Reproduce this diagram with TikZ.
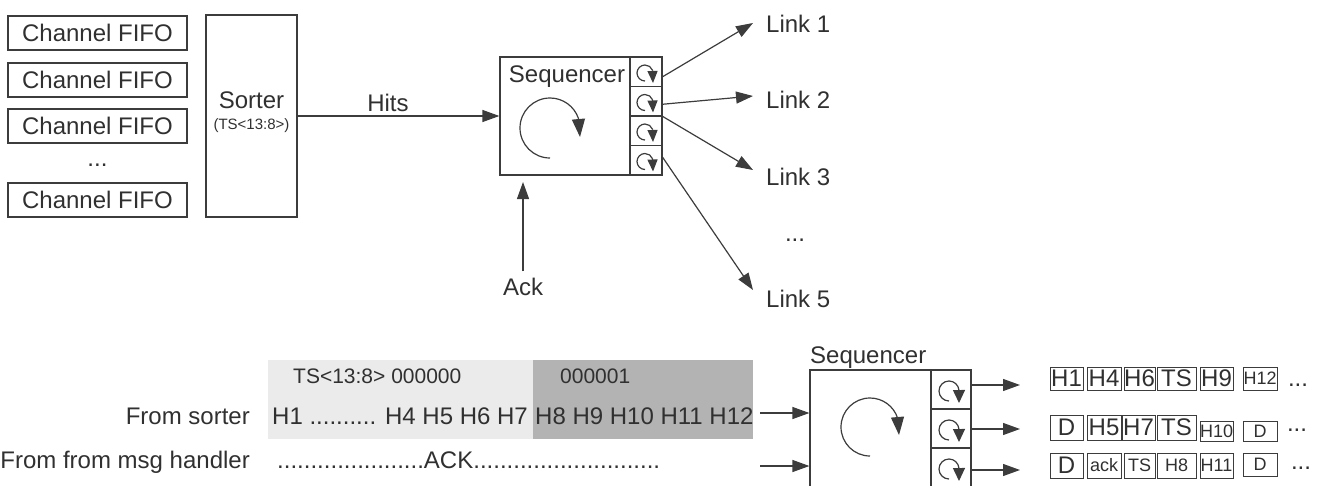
\documentclass[tikz,border=0pt]{standalone}
\usepackage{fontspec}
\setmainfont{Liberation Sans}
\usetikzlibrary{arrows.meta,calc}
\definecolor{lc}{HTML}{3C3C3C}
\definecolor{tc}{HTML}{303030}
\definecolor{lg}{HTML}{EBEBEB}
\definecolor{dg}{HTML}{B3B3B3}
\newcommand\fs[1]{\fontsize{#1}{#1}\selectfont}
\tikzset{
  ln/.style={draw=lc, line width=1.2pt},
  arr/.style={ln, -{Triangle[length=17pt,width=12pt]}},
  bx/.style={draw=lc, line width=1.2pt, inner sep=0pt},
  txt/.style={text=tc, inner sep=0pt, font=\fs{24}},
  gb/.style={draw=lc, line width=0.9pt, inner sep=0pt, text=tc, font=\fs{24}},
  sm/.style={font=\fs{18}},
}
% circular arrow: cx, cy, r, base angle, tip drop, head length, head width
\newcommand\cyc[7]{%
  \draw[ln] (#1,#2) ++(-90:#3pt) arc[start angle=-90, end angle=-360+#4, radius=#3pt];
  \draw[ln, -{Triangle[length=#6,width=#7]}] ([shift={(#4:#3pt)}]#1,#2) -- ([shift={(#3,#5)}]#1,#2);
}
\begin{document}
\begin{tikzpicture}[x=1pt,y=-1pt]
\useasboundingbox (0,0) rectangle (1325,485);
\clip (0,0) rectangle (1325,485);

% ---------- top part ----------
\node[bx, txt, minimum width=179pt, minimum height=34pt] (c1) at (97.5,33) {Channel FIFO};
\node[bx, txt, minimum width=179pt, minimum height=34pt] (c2) at (97.5,80) {Channel FIFO};
\node[bx, txt, minimum width=179pt, minimum height=34pt] (c3) at (97.5,126) {Channel FIFO};
\node[txt] (cdots) at (97.5,165) {...};
\node[bx, txt, minimum width=179pt, minimum height=34pt] (c5) at (97.5,200) {Channel FIFO};

\node[bx, minimum width=91pt, minimum height=202pt] (sorter) at (251.5,116) {};
\node[txt] (sorterlbl) at (251.5,100) {Sorter};
\node[txt, font=\fs{15}] (sorterts) at (251.5,126) {(TS<13:8>)};

\node[bx, minimum width=130pt, minimum height=118pt] (seq) at (565,116) {};
\node[txt, anchor=base] (seqlbl) at (567,82) {Sequencer};
\node[bx, minimum width=32pt, minimum height=29.5pt] (s1) at (646,71.75) {};
\node[bx, minimum width=32pt, minimum height=29.5pt] (s2) at (646,101.25) {};
\node[bx, minimum width=32pt, minimum height=29.5pt] (s3) at (646,130.75) {};
\node[bx, minimum width=32pt, minimum height=29.5pt] (s4) at (646,160.25) {};

\cyc{550}{128}{30}{19}{9}{18pt}{13pt}
\cyc{645}{73}{8}{20}{10}{12pt}{10pt}
\cyc{645}{102.5}{8}{20}{10}{12pt}{10pt}
\cyc{645}{132}{8}{20}{10}{12pt}{10pt}
\cyc{645}{161.5}{8}{20}{10}{12pt}{10pt}

\draw[arr] (sorter.east) -- (seq.west);
\node[txt] (hits) at (388,103) {Hits};

\node[txt, anchor=base west] (l1) at (766,32) {Link 1};
\node[txt, anchor=base west] (l2) at (766,108) {Link 2};
\node[txt, anchor=base west] (l3) at (766,185) {Link 3};
\node[txt] (ldots) at (795,240) {...};
\node[txt, anchor=base west] (l5) at (766,307) {Link 5};
\coordinate (t1) at (753,23);
\coordinate (t2) at (753,96);
\coordinate (t3) at (753,170);
\coordinate (t5) at (753,290);
\draw[arr] ([yshift=-5pt]s1.east) -- (t1);
\draw[arr] ([yshift=-3pt]s2.east) -- (t2);
\draw[arr] ([yshift=-1pt]s3.north east) -- (t3);
\draw[arr] ([yshift=3pt]s4.east) -- (t5);

\node[txt, anchor=base] (ack) at (523,295) {Ack};
\coordinate (ackend) at (523,182);
\draw[arr] ([yshift=6pt]ack.north) -- (ackend);

% ---------- bottom part ----------
\node[fill=lg, inner sep=0pt, minimum width=265pt, minimum height=79pt] (grayA) at (400.5,399.5) {};
\node[fill=dg, inner sep=0pt, minimum width=220pt, minimum height=79pt] (grayB) at (643,399.5) {};
\node[txt, font=\fs{21}, anchor=base west] (tsl) at (293,383) {TS<13:8> 000000};
\node[txt, font=\fs{21}, anchor=base west] (ts1) at (560,383) {000001};
\node[txt, anchor=base west] (hA) at (272,424) {H1 .......... H4 H5 H6 H7};
\node[txt, anchor=base west] (hB) at (535,424) {H8 H9 H10 H11 H12};
\node[txt, anchor=base west] (ackrow) at (277,468) {......................ACK............................};
\node[txt, anchor=base east] (fsrt) at (250,424) {From sorter};
\node[txt, anchor=base east] (fmsg) at (250,468) {From from msg handler};

\node[txt, anchor=base west] (bseqlbl) at (810,363) {Sequencer};
\node[bx, minimum width=121pt, minimum height=130pt] (bseq) at (870.5,435) {};
\node[bx, minimum width=40pt, minimum height=39pt] (b1) at (951,389.5) {};
\node[bx, minimum width=40pt, minimum height=39pt] (b2) at (951,428.5) {};
\node[bx, minimum width=40pt, minimum height=39pt] (b3) at (951,467.5) {};
\cyc{870}{427}{29}{18}{8}{18pt}{13pt}
\cyc{949}{391}{10}{5}{12}{13pt}{12pt}
\cyc{949}{430}{10}{5}{12}{13pt}{12pt}
\cyc{949}{469}{10}{5}{12}{13pt}{12pt}

\coordinate (in1) at (760,413);
\coordinate (in2) at (760,466);
\draw[arr] (in1) -- (in1 -| bseq.west);
\draw[arr] (in2) -- (in2 -| bseq.west);
\coordinate (o1) at (1020,385);
\coordinate (o2) at (1020,429);
\coordinate (o3) at (1020,470);
\draw[arr] ([yshift=4.5pt]b1.east) -- (o1);
\draw[arr] ([yshift=-0.5pt]b2.east) -- (o2);
\draw[arr] ([yshift=-2.5pt]b3.east) -- (o3);

% sequence boxes
\node[gb, minimum width=33pt, minimum height=23pt] (r1a) at (1066.5,378.5) {H1};
\node[gb, minimum width=34pt, minimum height=23pt] (r1b) at (1104,378.5) {H4};
\node[gb, minimum width=31pt, minimum height=23pt] (r1c) at (1139.5,378.5) {H6};
\node[gb, minimum width=39pt, minimum height=23pt] (r1d) at (1176.5,378.5) {TS};
\node[gb, minimum width=33pt, minimum height=23pt] (r1e) at (1216.5,378.5) {H9};
\node[gb, sm, minimum width=34pt, minimum height=23pt] (r1f) at (1260,378.5) {H12};
\node[txt] (r1dots) at (1298,385) {...};

\node[gb, minimum width=33pt, minimum height=25pt] (r2a) at (1066.5,427.5) {D};
\node[gb, minimum width=34pt, minimum height=25pt] (r2b) at (1104,427.5) {H5};
\node[gb, minimum width=33pt, minimum height=25pt] (r2c) at (1138.5,427.5) {H7};
\node[gb, minimum width=39pt, minimum height=25pt] (r2d) at (1176.5,427.5) {TS};
\node[gb, sm, minimum width=33pt, minimum height=20pt] (r2e) at (1216.5,431) {H10};
\node[gb, sm, minimum width=34pt, minimum height=20pt] (r2f) at (1260,431) {D};
\node[txt] (r2dots) at (1297,430) {...};

\node[gb, minimum width=33pt, minimum height=25pt] (r3a) at (1066.5,465.5) {D};
\node[gb, sm, minimum width=34pt, minimum height=25pt] (r3b) at (1104,465.5) {ack};
\node[gb, sm, minimum width=31pt, minimum height=25pt] (r3c) at (1139.5,465.5) {TS};
\node[gb, sm, minimum width=39pt, minimum height=25pt] (r3d) at (1176.5,465.5) {H8};
\node[gb, sm, minimum width=33pt, minimum height=25pt] (r3e) at (1216.5,465.5) {H11};
\node[gb, sm, minimum width=34pt, minimum height=23pt] (r3f) at (1260,464.5) {D};
\node[txt] (r3dots) at (1301,468) {...};
\end{tikzpicture}
\end{document}
